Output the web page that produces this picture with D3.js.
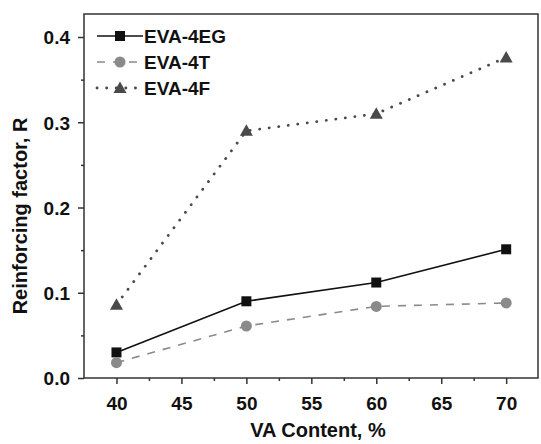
<!DOCTYPE html>
<html><head><meta charset="utf-8">
<script src="https://cdn.jsdelivr.net/npm/d3@7"></script>
<style>body{margin:0;background:#fff}svg{display:block}text{font-family:"Liberation Sans",Arial,sans-serif;font-weight:bold}</style>
</head><body>
<script>
const vaContent = [40, 50, 60, 70];
const seriesNames = ["EVA-4EG", "EVA-4T", "EVA-4F"];
const eva4EG = [0.030, 0.090, 0.112, 0.151];
const eva4T = [0.018, 0.061, 0.084, 0.088];
const eva4F = [0.086, 0.290, 0.310, 0.376];
const xTicks = [40, 45, 50, 55, 60, 65, 70];
const yTicks = [0.0, 0.1, 0.2, 0.3, 0.4];

const W = 541, H = 444;
const m = {left: 84, top: 14, right: 538, bottom: 378};
const svg = d3.select("body").append("svg").attr("width", W).attr("height", H);
const x = d3.scaleLinear().domain([37.5, 72.45]).range([m.left, m.right]);
const y = d3.scaleLinear().domain([0, 0.427]).range([m.bottom, m.top]);
const FONT = '"Liberation Sans",Arial,sans-serif';

// frame
svg.append("rect").attr("x", m.left).attr("y", m.top).attr("width", m.right - m.left).attr("height", m.bottom - m.top)
  .attr("fill", "none").attr("stroke", "#333").attr("stroke-width", 1.5);

// axes
const xAxis = svg.append("g").attr("transform", `translate(0,${m.bottom})`)
  .call(d3.axisBottom(x).tickValues(xTicks).tickSize(6).tickFormat(d3.format("d")));
const xMinor = svg.append("g").attr("transform", `translate(0,${m.bottom})`)
  .call(d3.axisBottom(x).tickValues(xTicks.map(v => v + 2.5).filter(v => v < 72)).tickSize(3).tickFormat(""));
const yAxis = svg.append("g").attr("transform", `translate(${m.left},0)`)
  .call(d3.axisLeft(y).tickValues(yTicks).tickSize(6).tickFormat(d3.format(".1f")));
const yMinor = svg.append("g").attr("transform", `translate(${m.left},0)`)
  .call(d3.axisLeft(y).tickValues(yTicks.map(v => v + 0.05).filter(v => v < 0.42)).tickSize(3).tickFormat(""));
[xAxis, xMinor, yAxis, yMinor].forEach(g => {
  g.select(".domain").remove();
  g.selectAll("line").attr("stroke", "#333").attr("stroke-width", 1.5);
  g.selectAll("text").attr("fill", "#111").style("font-size", "19px").style("font-family", FONT).style("font-weight", "bold");
});
xAxis.selectAll("text").attr("y", 32).attr("dy", null);
yAxis.selectAll("text").attr("x", -14).attr("dy", "0.36em");

// titles
svg.append("text").attr("x", 318).attr("y", 437).attr("text-anchor", "middle")
  .style("font-size", "20px").attr("fill", "#111").text("VA Content, %");
svg.append("text").attr("transform", `translate(27,216) rotate(-90)`).attr("text-anchor", "middle")
  .style("font-size", "20px").attr("fill", "#111").text("Reinforcing factor, R");

const series = [
  {name: seriesNames[0], vals: eva4EG, color: "#111", dash: null, width: 1.6, cap: "butt", marker: "square"},
  {name: seriesNames[1], vals: eva4T, color: "#8a8a8a", dash: "8,8", width: 1.6, cap: "butt", marker: "circle"},
  {name: seriesNames[2], vals: eva4F, color: "#4a4a4a", dash: "0.1,9.5", width: 2.8, cap: "round", marker: "triangle"}
];
const line = d3.line().x(d => x(d[0])).y(d => y(d[1]));

function drawMarker(g, type, cx, cy, color) {
  if (type === "square") g.append("rect").attr("x", cx - 5).attr("y", cy - 5).attr("width", 10).attr("height", 10).attr("fill", color);
  else if (type === "circle") g.append("circle").attr("cx", cx).attr("cy", cy).attr("r", 5.5).attr("fill", color);
  else g.append("path").attr("d", `M${cx},${cy - 6.5}L${cx + 6.5},${cy + 5}L${cx - 6.5},${cy + 5}Z`).attr("fill", color);
}

series.forEach(s => {
  const pts = vaContent.map((v, i) => [v, s.vals[i]]);
  svg.append("path").datum(pts).attr("d", line).attr("fill", "none").attr("stroke", s.color)
    .attr("stroke-width", s.width).attr("stroke-dasharray", s.dash).attr("stroke-linecap", s.cap);
  const g = svg.append("g");
  pts.forEach(p => drawMarker(g, s.marker, x(p[0]), y(p[1]), s.color));
});

// legend
const legendY = [36, 62, 88];
series.forEach((s, i) => {
  const g = svg.append("g");
  const ly = legendY[i];
  g.append("line").attr("x1", 97).attr("x2", 143).attr("y1", ly).attr("y2", ly).attr("stroke", s.color)
    .attr("stroke-width", s.width).attr("stroke-dasharray", s.dash).attr("stroke-linecap", s.cap);
  drawMarker(g, s.marker, 120, ly, s.color);
  g.append("text").attr("x", 144).attr("y", ly).attr("dy", "0.36em").style("font-size", "19px").attr("fill", "#111").text(s.name);
});
</script>
</body></html>
